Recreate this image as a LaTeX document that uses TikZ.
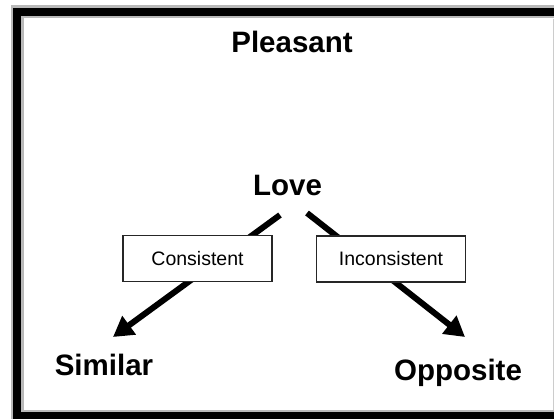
\documentclass[tikz,border=0pt]{standalone}
\usepackage{fontspec}
\setmainfont{Liberation Sans}
\usetikzlibrary{arrows.meta}
\begin{document}
\begin{tikzpicture}[x=1pt,y=-1pt,
  bigword/.style={font=\fontsize{29.5}{32}\selectfont\bfseries, anchor=base, inner sep=0pt},
  labelbox/.style={draw=black!85, line width=1.4pt, fill=white, minimum width=149pt, minimum height=46pt, inner sep=0pt, font=\fontsize{19.5}{22}\selectfont},
  bigarrow/.style={line width=6pt, -{Triangle[length=20pt,width=22pt]}, black}
]
\useasboundingbox (0,0) rectangle (554,419);
\fill[white] (0,0) rectangle (554,419);
\begin{scope}
\clip (0,0) rectangle (554,419);
\draw[gray!55, line width=13pt] (17,12) rectangle (565,416);
\draw[black, line width=8pt] (17,12) rectangle (565,416);
\draw[gray!40, line width=1pt] (553,19) -- (553,410);
\end{scope}
\node[bigword] (pleasant) at (292,53) {Pleasant};
\node[bigword] (love) at (287.5,196) {Love};
\node[bigword] (similar) at (104,375) {Similar};
\node[bigword] (opposite) at (458,381) {Opposite};
\coordinate (ls) at (280,215);
\coordinate (lt) at (113,337);
\coordinate (rs) at (307,213);
\coordinate (rt) at (465,337);
\draw[bigarrow] (ls) -- (lt);
\draw[bigarrow] (rs) -- (rt);
\node[labelbox] (consistent) at (197.5,258.5) {Consistent};
\node[labelbox] (inconsistent) at (391,259) {Inconsistent};
\end{tikzpicture}
\end{document}
